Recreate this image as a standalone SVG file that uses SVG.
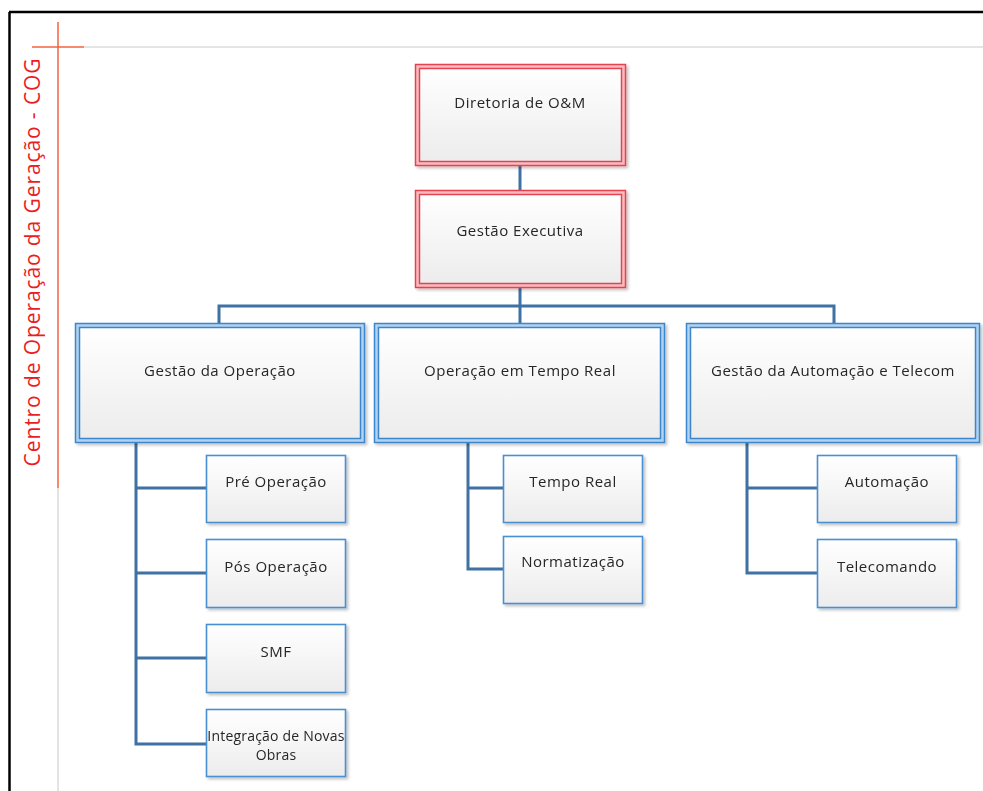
<svg xmlns="http://www.w3.org/2000/svg" width="983" height="791" viewBox="0 0 983 791">
  <defs>
    <linearGradient id="boxFill" x1="0" y1="0" x2="0" y2="1">
      <stop offset="0" stop-color="#ffffff"/>
      <stop offset="1" stop-color="#ececec"/>
    </linearGradient>
    <filter id="shadow" x="-5%" y="-5%" width="115%" height="120%">
      <feGaussianBlur in="SourceAlpha" stdDeviation="1.5"/>
      <feOffset dx="2" dy="2" result="b"/>
      <feComponentTransfer><feFuncA type="linear" slope="0.25"/></feComponentTransfer>
      <feMerge><feMergeNode/><feMergeNode in="SourceGraphic"/></feMerge>
    </filter>
  </defs>
  <style>
    .lbl { font-family: "Open Sans", "Noto Sans", "DejaVu Sans", sans-serif; font-size: 15px; letter-spacing: 0.5px; fill: #262626; text-anchor: middle; }
    .sm { font-size: 14px; letter-spacing: 0.2px; }
    .redOut { fill: #f9bcc2; stroke: #e5434f; stroke-width: 1.5; }
    .redIn { fill: url(#boxFill); stroke: #e5434f; stroke-width: 1.5; }
    .bluOut { fill: #b2d3f0; stroke: #3c86cb; stroke-width: 1.5; }
    .bluIn { fill: url(#boxFill); stroke: #3c86cb; stroke-width: 1.5; }
    .leaf { fill: url(#boxFill); stroke: #4a90d2; stroke-width: 1.6; }
    .conn { fill: none; stroke: #3f71a4; stroke-width: 3; }
    .title { font-family: "Open Sans", "Noto Sans", sans-serif; font-size: 21px; letter-spacing: 0.9px; fill: #ec1c24; text-anchor: middle; }
  </style>

  <rect width="983" height="791" fill="#ffffff"/>

  <!-- frame and guide lines -->
  <g id="frame">
    <line x1="9.5" y1="12" x2="9.5" y2="791" stroke="#000" stroke-width="2.5"/>
    <line x1="9" y1="12" x2="983" y2="12" stroke="#000" stroke-width="2.5"/>
    <line x1="84" y1="47" x2="983" y2="47" stroke="#e4e4e4" stroke-width="2"/>
    <line x1="58" y1="488" x2="58" y2="791" stroke="#e4e4e4" stroke-width="2"/>
    <line x1="58" y1="22" x2="58" y2="488" stroke="#f4623f" stroke-width="1.5"/>
    <line x1="32" y1="47" x2="84" y2="47" stroke="#f4623f" stroke-width="1.5"/>
    <text class="title" transform="translate(40 262) rotate(-90)">Centro de Operação da Geração - COG</text>
  </g>

  <!-- connectors -->
  <g id="connectors">
    <line class="conn" x1="520" y1="166" x2="520" y2="190"/>
    <line class="conn" x1="520" y1="288" x2="520" y2="323"/>
    <polyline class="conn" points="219,323 219,306 834,306 834,323"/>
    <polyline class="conn" points="136,442 136,744 206,744"/>
    <line class="conn" x1="136" y1="488" x2="206" y2="488"/>
    <line class="conn" x1="136" y1="573" x2="206" y2="573"/>
    <line class="conn" x1="136" y1="658" x2="206" y2="658"/>
    <polyline class="conn" points="468,442 468,569 503,569"/>
    <line class="conn" x1="468" y1="488" x2="503" y2="488"/>
    <polyline class="conn" points="747,442 747,573 817,573"/>
    <line class="conn" x1="747" y1="488" x2="817" y2="488"/>
  </g>

  <g id="diretoria" filter="url(#shadow)">
    <rect class="redOut" x="415.5" y="64.5" width="210" height="101"/>
    <rect class="redIn" x="419.5" y="68.5" width="202" height="93"/>
    <text class="lbl" x="520" y="108">Diretoria de O&amp;M</text>
  </g>

  <g id="gestao-executiva" filter="url(#shadow)">
    <rect class="redOut" x="415.5" y="190.5" width="210" height="97"/>
    <rect class="redIn" x="419.5" y="194.5" width="202" height="89"/>
    <text class="lbl" x="520" y="236">Gestão Executiva</text>
  </g>

  <g id="gestao-operacao" filter="url(#shadow)">
    <rect class="bluOut" x="75.5" y="323.5" width="289" height="119"/>
    <rect class="bluIn" x="79.5" y="327.5" width="281" height="111"/>
    <text class="lbl" x="220" y="376">Gestão da Operação</text>
  </g>

  <g id="operacao-tempo-real" filter="url(#shadow)">
    <rect class="bluOut" x="374.5" y="323.5" width="290" height="119"/>
    <rect class="bluIn" x="378.5" y="327.5" width="282" height="111"/>
    <text class="lbl" x="520" y="376">Operação em Tempo Real</text>
  </g>

  <g id="gestao-automacao" filter="url(#shadow)">
    <rect class="bluOut" x="686.5" y="323.5" width="293" height="119"/>
    <rect class="bluIn" x="690.5" y="327.5" width="285" height="111"/>
    <text class="lbl" x="833" y="376">Gestão da Automação e Telecom</text>
  </g>

  <g id="pre-operacao" filter="url(#shadow)">
    <rect class="leaf" x="206.5" y="455.5" width="139" height="67"/>
    <text class="lbl" x="276" y="487">Pré Operação</text>
  </g>

  <g id="pos-operacao" filter="url(#shadow)">
    <rect class="leaf" x="206.5" y="539.5" width="139" height="68"/>
    <text class="lbl" x="276" y="572">Pós Operação</text>
  </g>

  <g id="smf" filter="url(#shadow)">
    <rect class="leaf" x="206.5" y="624.5" width="139" height="68"/>
    <text class="lbl" x="276" y="657">SMF</text>
  </g>

  <g id="integracao" filter="url(#shadow)">
    <rect class="leaf" x="206.5" y="709.5" width="139" height="67"/>
    <text class="lbl sm" x="276" y="741">Integração de Novas</text>
    <text class="lbl sm" x="276" y="760">Obras</text>
  </g>

  <g id="tempo-real" filter="url(#shadow)">
    <rect class="leaf" x="503.5" y="455.5" width="139" height="67"/>
    <text class="lbl" x="573" y="487">Tempo Real</text>
  </g>

  <g id="normatizacao" filter="url(#shadow)">
    <rect class="leaf" x="503.5" y="536.5" width="139" height="67"/>
    <text class="lbl" x="573" y="567">Normatização</text>
  </g>

  <g id="automacao" filter="url(#shadow)">
    <rect class="leaf" x="817.5" y="455.5" width="139" height="67"/>
    <text class="lbl" x="887" y="487">Automação</text>
  </g>

  <g id="telecomando" filter="url(#shadow)">
    <rect class="leaf" x="817.5" y="539.5" width="139" height="68"/>
    <text class="lbl" x="887" y="572">Telecomando</text>
  </g>
</svg>
